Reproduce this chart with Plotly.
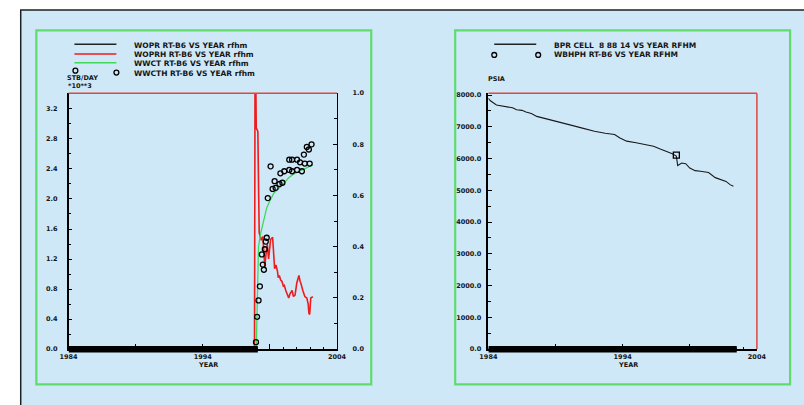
import plotly.graph_objects as go

W, H = 804, 405

# ---------------- left panel: well RT-B6 rates / water cut ----------------
# shut-in period (zero history before the well opens)
shutin_years = [1984.0, 1998.1]
shutin_vals = [0.0, 0.0]

woprh_years = [1997.85, 1997.9, 1997.98, 1998.1, 1998.2, 1998.35, 1998.47, 1998.55, 1998.62,
               1998.7, 1998.8, 1998.9, 1999.05, 1999.2, 1999.28, 1999.35, 1999.45, 1999.56,
               1999.62, 1999.7, 1999.8, 1999.9, 2000.0, 2000.07, 2000.18, 2000.3, 2000.4,
               2000.5, 2000.65, 2000.75, 2000.87, 2001.0, 2001.16, 2001.25, 2001.3, 2001.45,
               2001.55, 2001.6, 2001.75, 2001.85, 2001.9, 2001.96, 2002.04, 2002.2]
woprh_vals = [0.0, 4.5, 2.95, 2.9, 1.55, 1.45, 1.50, 1.30, 1.10,
              1.25, 1.40, 1.20, 1.46, 1.49, 1.15, 1.07, 1.12, 1.04,
              0.95, 0.98, 0.92, 0.90, 0.84, 0.85, 0.78, 0.72, 0.68,
              0.74, 0.78, 0.70, 0.72, 0.88, 0.98, 0.90, 0.88, 0.78,
              0.72, 0.70, 0.68, 0.60, 0.48, 0.46, 0.68, 0.70]

wwct_years = [1997.98, 1998.05, 1998.15, 1998.3, 1998.5, 1998.75, 1999.0, 1999.3, 1999.7,
              2000.0, 2000.4, 2000.8, 2001.2, 2001.6, 2002.0, 2002.2]
wwct_vals = [0.0, 0.20, 0.40, 0.45, 0.50, 0.55, 0.58, 0.61, 0.63,
             0.645, 0.67, 0.685, 0.695, 0.705, 0.715, 0.72]

wwcth_years = [1997.96, 1998.04, 1998.15, 1998.25, 1998.55, 1998.47, 1998.4, 1998.62, 1998.69,
               1998.76, 1998.84, 1999.05, 1999.2, 1999.35, 1999.42, 1999.71, 1999.78, 1999.93,
               2000.07, 2000.44, 2000.44, 2000.65, 2000.65, 2001.02, 2001.02, 2001.24, 2001.38,
               2001.53, 2001.6, 2001.75, 2001.9, 2001.96, 2002.1]
wwcth_vals = [0.027, 0.126, 0.19, 0.245, 0.31, 0.33, 0.37, 0.39, 0.42,
              0.435, 0.59, 0.714, 0.626, 0.656, 0.63, 0.645, 0.687, 0.65,
              0.695, 0.70, 0.74, 0.695, 0.74, 0.70, 0.74, 0.73, 0.695,
              0.76, 0.725, 0.79, 0.78, 0.725, 0.80]

rate_ticks = [0.0, 0.4, 0.8, 1.2, 1.6, 2.0, 2.4, 2.8, 3.2]
frac_ticks = [0.0, 0.2, 0.4, 0.6, 0.8, 1.0]
year_ticks = [1984, 1989, 1994, 1999, 2004]
year_labels = ["1984", "", "1994", "", "2004"]

# ---------------- right panel: block pressure ----------------
bhp_zero_years = [1984.0, 2002.5]
bhp_zero_vals = [0.0, 0.0]

bpr_years = [1984.0, 1984.15, 1984.6, 1985.0, 1985.4, 1985.8, 1986.1, 1986.5, 1986.8, 1987.2,
             1987.6, 1988.3, 1989.0, 1990.0, 1991.0, 1991.9, 1992.7, 1993.4, 1993.8, 1994.3,
             1995.0, 1995.6, 1996.3, 1996.8, 1997.3, 1997.7, 1998.0, 1998.1, 1998.4, 1998.7,
             1999.0, 1999.4, 1999.8, 2000.4, 2000.9, 2001.3, 2001.7, 2002.0, 2002.25]
bpr_vals = [7900, 7820, 7690, 7660, 7630, 7600, 7540, 7520, 7470, 7420,
            7330, 7260, 7180, 7070, 6960, 6860, 6800, 6760, 6650, 6550,
            6500, 6440, 6390, 6300, 6220, 6150, 6080, 5780, 5860, 5840,
            5700, 5620, 5600, 5560, 5400, 5350, 5280, 5180, 5130]

wbhph_years = [1998.0]
wbhph_vals = [6110]

psia_ticks = [0, 1000, 2000, 3000, 4000, 5000, 6000, 7000, 8000]

BG = "#cfe8f7"
GREEN = "#5fdc6e"
RED = "#e0473f"
INK = "#151515"
FONT = "DejaVu Sans"


def px(x):
    return x / W


def py(y):
    return 1 - y / H


tickfont = dict(family=FONT, size=6.5, color=INK, weight="bold")

fig = go.Figure()

# left panel traces
fig.add_trace(go.Scatter(x=shutin_years, y=shutin_vals, mode="lines", xaxis="x", yaxis="y",
                         line=dict(color="black", width=3), showlegend=False))
fig.add_trace(go.Scatter(x=wwct_years, y=wwct_vals, mode="lines", xaxis="x", yaxis="y2",
                         line=dict(color="#3fd85a", width=1.3), showlegend=False))
fig.add_trace(go.Scatter(x=woprh_years, y=woprh_vals, mode="lines", xaxis="x", yaxis="y",
                         line=dict(color="#ee1c1c", width=1.6), showlegend=False))
fig.add_trace(go.Scatter(x=wwcth_years, y=wwcth_vals, mode="markers", xaxis="x", yaxis="y2",
                         marker=dict(symbol="circle-open", size=5, color="black",
                                     line=dict(width=1.3, color="black")),
                         showlegend=False))

# right panel traces
fig.add_trace(go.Scatter(x=bhp_zero_years, y=bhp_zero_vals, mode="lines", xaxis="x3", yaxis="y3",
                         line=dict(color="black", width=3), showlegend=False))
fig.add_trace(go.Scatter(x=bpr_years, y=bpr_vals, mode="lines", xaxis="x3", yaxis="y3",
                         line=dict(color="#1a1a1a", width=1.1), showlegend=False))
fig.add_trace(go.Scatter(x=wbhph_years, y=wbhph_vals, mode="markers", xaxis="x3", yaxis="y3",
                         marker=dict(symbol="square-open", size=6, color="black",
                                     line=dict(width=1.3, color="black")),
                         showlegend=False))

xdom_l = [px(61), px(336)]
xdom_r = [px(491), px(766)]
ydom = [py(352), py(91)]

common_x = dict(range=[1984, 2004], tickvals=year_ticks, ticktext=year_labels,
                ticks="inside", ticklen=5, tickcolor="black", tickwidth=1,
                minor=dict(dtick=1, tick0=1984, ticks="inside", ticklen=2.5, tickcolor="black"),
                showline=True, linecolor="black", linewidth=1.5, showgrid=False, zeroline=False,
                tickfont=tickfont, ticklabelstandoff=0)

fig.update_layout(
    width=W, height=H,
    margin=dict(l=0, r=0, t=0, b=0),
    paper_bgcolor="white",
    plot_bgcolor=BG,
    xaxis=dict(domain=xdom_l, anchor="y", **common_x),
    yaxis=dict(domain=ydom, anchor="x", range=[0, 3.41], tickvals=rate_ticks,
               ticktext=[f"{v:.1f}" for v in rate_ticks],
               ticks="inside", ticklen=4, tickcolor="black",
               minor=dict(dtick=0.2, tick0=0, ticks="inside", ticklen=3, tickcolor="black"),
               showline=True, linecolor="black", linewidth=1.5, showgrid=False, zeroline=False,
               tickfont=tickfont, ticklabelstandoff=8),
    yaxis2=dict(domain=ydom, anchor="x", overlaying="y", side="right", range=[0, 1],
                tickvals=frac_ticks, ticktext=[f"{v:.1f}" for v in frac_ticks],
                ticks="inside", ticklen=4, tickcolor="black",
                minor=dict(dtick=0.1, tick0=0, ticks="inside", ticklen=3, tickcolor="black"),
                showline=True, linecolor="black", linewidth=1.2, showgrid=False, zeroline=False,
                tickfont=tickfont, ticklabelstandoff=13),
    xaxis3=dict(domain=xdom_r, anchor="y3", **common_x),
    yaxis3=dict(domain=ydom, anchor="x3", range=[0, 8060], tickvals=psia_ticks,
                ticktext=[f"{v:.1f}" for v in psia_ticks],
                ticks="inside", ticklen=4, tickcolor="black",
                minor=dict(dtick=500, tick0=0, ticks="inside", ticklen=3, tickcolor="black"),
                showline=True, linecolor="black", linewidth=1.5, showgrid=False, zeroline=False,
                tickfont=tickfont, ticklabelstandoff=4),
)

shapes = []
# page frame and panel borders
shapes.append(dict(type="rect", xref="paper", yref="paper", x0=px(12), x1=1.02, y0=-0.02, y1=py(6),
                   fillcolor=BG, line=dict(color="#202020", width=1.5), layer="below"))
for x0, x1 in [(28, 371), (457, 800)]:
    shapes.append(dict(type="rect", xref="paper", yref="paper", x0=px(x0), x1=px(x1),
                       y0=py(388), y1=py(27), line=dict(color=GREEN, width=2.2), layer="below"))
# the zero-valued stretch of each history is drawn as a heavy band on the time axis
for xa, yrs in [("x", shutin_years), ("x3", bhp_zero_years)]:
    shapes.append(dict(type="rect", xref=xa, yref="paper", x0=yrs[0], x1=yrs[-1],
                       y0=py(355.5), y1=py(349), fillcolor="black", line=dict(width=0)))
# red top frames and right frame of the pressure plot
shapes.append(dict(type="line", xref="paper", yref="paper", x0=px(61), x1=px(336), y0=py(91), y1=py(91),
                   line=dict(color=RED, width=1.5)))
shapes.append(dict(type="line", xref="paper", yref="paper", x0=px(491), x1=px(766), y0=py(91), y1=py(91),
                   line=dict(color=RED, width=1.5)))
shapes.append(dict(type="line", xref="paper", yref="paper", x0=px(766), x1=px(766), y0=py(352), y1=py(91),
                   line=dict(color=RED, width=1.5)))

# legend samples, left panel
for yy, col in [(41, "#222222"), (51, "#ee1c1c"), (60, "#3fd85a")]:
    shapes.append(dict(type="line", xref="paper", yref="paper", x0=px(67), x1=px(110),
                       y0=py(yy), y1=py(yy), line=dict(color=col, width=1.6)))
for xx, yy in [(68, 68), (110, 70)]:
    shapes.append(dict(type="circle", xref="paper", yref="paper", x0=px(xx - 2.5), x1=px(xx + 2.5),
                       y0=py(yy + 2.5), y1=py(yy - 2.5), line=dict(color="black", width=1.3)))
# legend samples, right panel
shapes.append(dict(type="line", xref="paper", yref="paper", x0=px(497), x1=px(540),
                   y0=py(41), y1=py(41), line=dict(color="#222222", width=1.6)))
for xx in [497, 542]:
    shapes.append(dict(type="circle", xref="paper", yref="paper", x0=px(xx - 2.5), x1=px(xx + 2.5),
                       y0=py(54.5), y1=py(49.5), line=dict(color="black", width=1.3)))
fig.update_layout(shapes=shapes)

legfont = dict(family=FONT, size=7.5, color=INK, weight="bold")
ann = []
left_legend = ["WOPR RT-B6 VS YEAR rfhm", "WOPRH RT-B6 VS YEAR rfhm",
               "WWCT RT-B6 VS YEAR rfhm", "WWCTH RT-B6 VS YEAR rfhm"]
for txt, yy in zip(left_legend, [42, 52, 61, 71]):
    ann.append(dict(text=txt, xref="paper", yref="paper", x=px(126), y=py(yy),
                    xanchor="left", yanchor="middle", showarrow=False, font=legfont))
right_legend = ["BPR CELL  8 88 14 VS YEAR RFHM", "WBHPH RT-B6 VS YEAR RFHM"]
for txt, yy in zip(right_legend, [42, 52]):
    ann.append(dict(text=txt, xref="paper", yref="paper", x=px(556), y=py(yy),
                    xanchor="left", yanchor="middle", showarrow=False, font=legfont))

axfont = dict(family=FONT, size=6.5, color=INK, weight="bold")
ann.append(dict(text="STB/DAY", xref="paper", yref="paper", x=px(57), y=py(76),
                xanchor="left", yanchor="middle", showarrow=False, font=axfont))
ann.append(dict(text="*10**3", xref="paper", yref="paper", x=px(58), y=py(84),
                xanchor="left", yanchor="middle", showarrow=False, font=axfont))
ann.append(dict(text="PSIA", xref="paper", yref="paper", x=px(489), y=py(77),
                xanchor="left", yanchor="middle", showarrow=False, font=axfont))
ann.append(dict(text="YEAR", xref="x", yref="paper", x=1994.4, y=py(368),
                xanchor="center", yanchor="middle", showarrow=False, font=axfont))
ann.append(dict(text="YEAR", xref="x3", yref="paper", x=1994.4, y=py(368),
                xanchor="center", yanchor="middle", showarrow=False, font=axfont))
fig.update_layout(annotations=ann)

fig.write_html("out.html")
